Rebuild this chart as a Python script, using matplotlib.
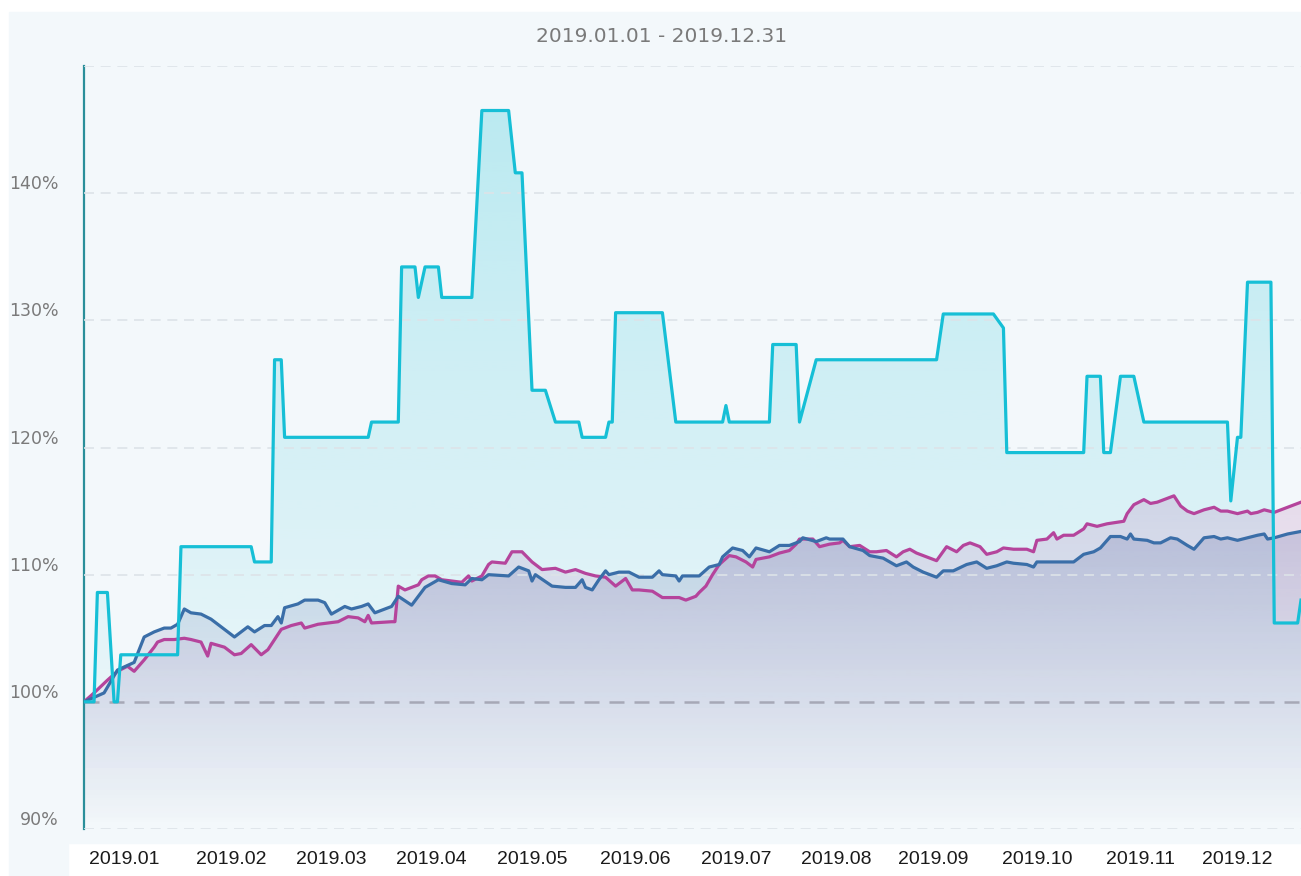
import numpy as np
import matplotlib.pyplot as plt
import matplotlib.dates as mdates
from matplotlib.colors import to_rgb
from matplotlib.patches import Rectangle, PathPatch
from matplotlib.path import Path

# data: day offset from 2019-01-01, value in %
start = np.datetime64('2019-01-01')

cyan_days = [0, 3, 4, 7, 9, 10, 11, 28, 29, 50, 51, 56, 57, 59, 60, 85, 86, 94, 95, 99,
             100, 102, 106, 107, 116, 119, 127, 129, 131, 134, 138, 141, 148, 149, 156,
             157, 158, 159, 173, 177, 191, 192, 193, 205, 206, 213, 214, 219, 255, 257,
             272, 275, 276, 299, 300, 304, 305, 307, 310, 314, 317, 342, 343, 345, 346,
             348, 355, 356, 363, 364]
cyan_vals = [100.0, 100.0, 108.6, 108.6, 100.0, 100.0, 103.7, 103.7, 112.2, 112.2, 111.0,
             111.0, 126.9, 126.9, 120.8, 120.8, 122.0, 122.0, 134.2, 134.2, 131.8, 134.2,
             134.2, 131.8, 131.8, 146.5, 146.5, 141.6, 141.6, 124.5, 124.5, 122.0, 122.0,
             120.8, 120.8, 122.0, 122.0, 130.6, 130.6, 122.0, 122.0, 123.3, 122.0, 122.0,
             128.1, 128.1, 122.0, 126.9, 126.9, 130.5, 130.5, 129.4, 119.6, 119.6, 125.6,
             125.6, 119.6, 119.6, 125.6, 125.6, 122.0, 122.0, 115.8, 120.8, 120.8, 133.0,
             133.0, 106.2, 106.2, 108.0]

blue_days = [0, 6, 10, 15, 18, 21, 24, 26, 28, 30, 32, 35, 38, 42, 45, 49, 51, 54, 56, 58,
             59, 60, 64, 66, 70, 72, 74, 78, 80, 83, 85, 87, 92, 94, 98, 102, 106, 110, 114,
             116, 119, 121, 127, 130, 133, 134, 135, 140, 144, 147, 149, 150, 152, 154, 156,
             157, 160, 163, 166, 170, 172, 173, 177, 178, 179, 183, 184, 187, 190, 191, 194,
             197, 199, 201, 205, 208, 211, 214, 215, 219, 222, 223, 227, 229, 233, 235, 239,
             243, 246, 248, 251, 255, 257, 260, 264, 267, 270, 273, 276, 278, 282, 284, 285,
             290, 293, 296, 299, 302, 304, 307, 310, 312, 313, 314, 318, 320, 322, 325, 327,
             330, 332, 335, 338, 340, 342, 345, 348, 351, 353, 354, 356, 360, 364]
blue_vals = [100.0, 100.7, 102.5, 103.1, 105.1, 105.5, 105.8, 105.8, 106.1, 107.3, 107.0,
             106.9, 106.5, 105.7, 105.1, 105.9, 105.5, 106.0, 106.0, 106.7, 106.2, 107.4,
             107.7, 108.0, 108.0, 107.8, 106.9, 107.5, 107.3, 107.5, 107.7, 107.0, 107.5,
             108.3, 107.6, 109.0, 109.6, 109.3, 109.2, 109.7, 109.6, 110.0, 109.9, 110.6,
             110.3, 109.5, 110.0, 109.1, 109.0, 109.0, 109.6, 109.0, 108.8, 109.6, 110.3,
             110.0, 110.2, 110.2, 109.8, 109.8, 110.3, 110.0, 109.9, 109.5, 109.9, 109.9,
             109.9, 110.6, 110.8, 111.4, 112.1, 111.9, 111.4, 112.1, 111.8, 112.3, 112.3,
             112.6, 112.9, 112.6, 112.9, 112.8, 112.8, 112.2, 111.9, 111.5, 111.3, 110.7,
             111.0, 110.6, 110.2, 109.8, 110.3, 110.3, 110.8, 111.0, 110.5, 110.7, 111.0,
             110.9, 110.8, 110.6, 111.0, 111.0, 111.0, 111.0, 111.6, 111.8, 112.1, 113.0,
             113.0, 112.8, 113.2, 112.8, 112.7, 112.5, 112.5, 112.9, 112.8, 112.3, 112.0,
             112.9, 113.0, 112.8, 112.9, 112.7, 112.9, 113.1, 113.2, 112.8, 112.9, 113.2,
             113.4]

mag_days = [0, 3, 7, 10, 13, 15, 18, 21, 22, 24, 27, 30, 32, 35, 37, 38, 42, 45, 47, 50,
            53, 55, 59, 62, 65, 66, 70, 73, 76, 79, 82, 84, 85, 86, 92, 93, 94, 96, 100,
            101, 103, 105, 107, 113, 115, 116, 119, 121, 122, 126, 128, 131, 134, 137, 141,
            144, 147, 150, 153, 156, 159, 162, 164, 166, 170, 173, 178, 180, 183, 184, 186,
            188, 190, 193, 195, 198, 200, 201, 205, 208, 211, 213, 214, 218, 220, 223, 226,
            227, 229, 232, 235, 237, 240, 243, 245, 247, 249, 252, 255, 258, 261, 263, 265,
            268, 270, 273, 275, 278, 282, 284, 285, 288, 290, 291, 293, 296, 299, 300, 303,
            306, 311, 312, 314, 317, 319, 321, 323, 326, 328, 330, 332, 335, 338, 340, 342,
            345, 348, 349, 351, 353, 356, 360, 364]
mag_vals = [100.0, 100.7, 101.7, 102.4, 102.8, 102.4, 103.3, 104.3, 104.7, 104.9, 104.9,
            105.0, 104.9, 104.7, 103.6, 104.6, 104.3, 103.7, 103.8, 104.5, 103.7, 104.1,
            105.7, 106.0, 106.2, 105.8, 106.1, 106.2, 106.3, 106.7, 106.6, 106.3, 106.8,
            106.2, 106.3, 106.3, 109.1, 108.8, 109.2, 109.6, 109.9, 109.9, 109.6, 109.4,
            109.9, 109.5, 109.9, 110.8, 111.0, 110.9, 111.8, 111.8, 111.0, 110.4, 110.5,
            110.2, 110.4, 110.1, 109.9, 109.8, 109.1, 109.7, 108.8, 108.8, 108.7, 108.2,
            108.2, 108.0, 108.3, 108.6, 109.1, 110.0, 110.8, 111.5, 111.4, 111.0, 110.6,
            111.2, 111.4, 111.7, 111.9, 112.4, 112.8, 112.8, 112.2, 112.4, 112.5, 112.7,
            112.2, 112.3, 111.8, 111.8, 111.9, 111.4, 111.8, 112.0, 111.7, 111.4, 111.1,
            112.2, 111.8, 112.3, 112.5, 112.2, 111.6, 111.8, 112.1, 112.0, 112.0, 111.8,
            112.7, 112.8, 113.3, 112.8, 113.1, 113.1, 113.6, 114.0, 113.8, 114.0, 114.2,
            114.8, 115.5, 115.9, 115.6, 115.7, 115.9, 116.2, 115.4, 115.0, 114.8, 115.1,
            115.3, 115.0, 115.0, 114.8, 115.0, 114.8, 114.9, 115.1, 114.9, 115.3, 115.7]

tick_days = [12, 44, 74, 104, 134, 165, 195, 225, 254, 285, 316, 345]
tick_labels = ['2019.01', '2019.02', '2019.03', '2019.04', '2019.05', '2019.06',
               '2019.07', '2019.08', '2019.09', '2019.10', '2019.11', '2019.12']

bg = '#f3f8fb'
W, H = 1301, 876
Y0, Y1 = 90, 150


def to_num(days):
    return mdates.date2num(start + np.array(days, dtype='timedelta64[D]'))


def grad_fill(ax, x, y, color, a_top, a_bot, z):
    verts = list(zip(x, y)) + [(x[-1], Y0), (x[0], Y0)]
    patch = PathPatch(Path(verts), facecolor='none', edgecolor='none')
    ax.add_patch(patch)
    img = np.zeros((256, 1, 4))
    img[..., :3] = to_rgb(color)
    img[..., 3] = np.linspace(a_bot, a_top, 256)[:, None]
    im = ax.imshow(img, aspect='auto', origin='lower', zorder=z,
                   extent=[x[0], x[-1], Y0, Y1], interpolation='bilinear')
    im.set_clip_path(patch)


fig = plt.figure(figsize=(W / 100, H / 100), dpi=100)
fig.add_artist(Rectangle((9 / W, 1 - 843 / H), 1 - 9 / W, (843 - 12) / H,
                         transform=fig.transFigure, color=bg, zorder=-10))
fig.add_artist(Rectangle((9 / W, 0), (68 - 9) / W, 1 - 843 / H,
                         transform=fig.transFigure, color=bg, zorder=-10))

ax = fig.add_axes([84 / W, 1 - 829 / H, 1 - 84 / W, (829 - 66) / H])
ax.patch.set_alpha(0)

xc, xb, xm = to_num(cyan_days), to_num(blue_days), to_num(mag_days)

grad_fill(ax, xc, cyan_vals, '#2cc6d8', 0.30, 0.0, 1)
grad_fill(ax, xm, mag_vals, '#a9509f', 0.40, 0.0, 2)
grad_fill(ax, xb, blue_vals, '#56619f', 0.55, 0.0, 3)

for v in [90, 110, 120, 130, 140, 150]:
    ax.axhline(v, color='#dde3e8', lw=1.2, ls=(0, (6, 4)), zorder=4)
ax.axhline(100, color='#a6a8b6', lw=1.8, ls=(0, (6, 4)), zorder=4)

ax.plot(xm, mag_vals, color='#b5449c', lw=2.3, zorder=5)
ax.plot(xb, blue_vals, color='#3a6ea8', lw=2.3, zorder=6)
ax.plot(xc, cyan_vals, color='#16bfd6', lw=2.3, zorder=7)

ax.set_xlim(to_num([0])[0], to_num([364])[0])
ax.set_ylim(Y0, Y1)

for s in ['top', 'right', 'bottom']:
    ax.spines[s].set_visible(False)
ax.spines['left'].set_color('#2a8f9a')
ax.spines['left'].set_linewidth(1.6)

ax.set_yticks([90, 100, 110, 120, 130, 140])
ax.set_yticklabels(['90%', '100%', '110%', '120%', '130%', '140%'],
                   color='#7a7a7a', fontsize=12.5)
for lab in ax.get_yticklabels():
    lab.set_va('bottom')
ax.tick_params(axis='y', length=0, pad=18.5)

ax.set_xticks(to_num(tick_days))
ax.set_xticklabels(tick_labels, fontsize=14, family='Liberation Sans', color='#1a1a1a')
ax.tick_params(axis='x', length=0, pad=16)

fig.text(662 / W, 1 - 37 / H, '2019.01.01 - 2019.12.31', ha='center', va='center',
         fontsize=14.5, color='#7a7a7a')

fig.savefig('out.png', dpi=100, facecolor='white')
